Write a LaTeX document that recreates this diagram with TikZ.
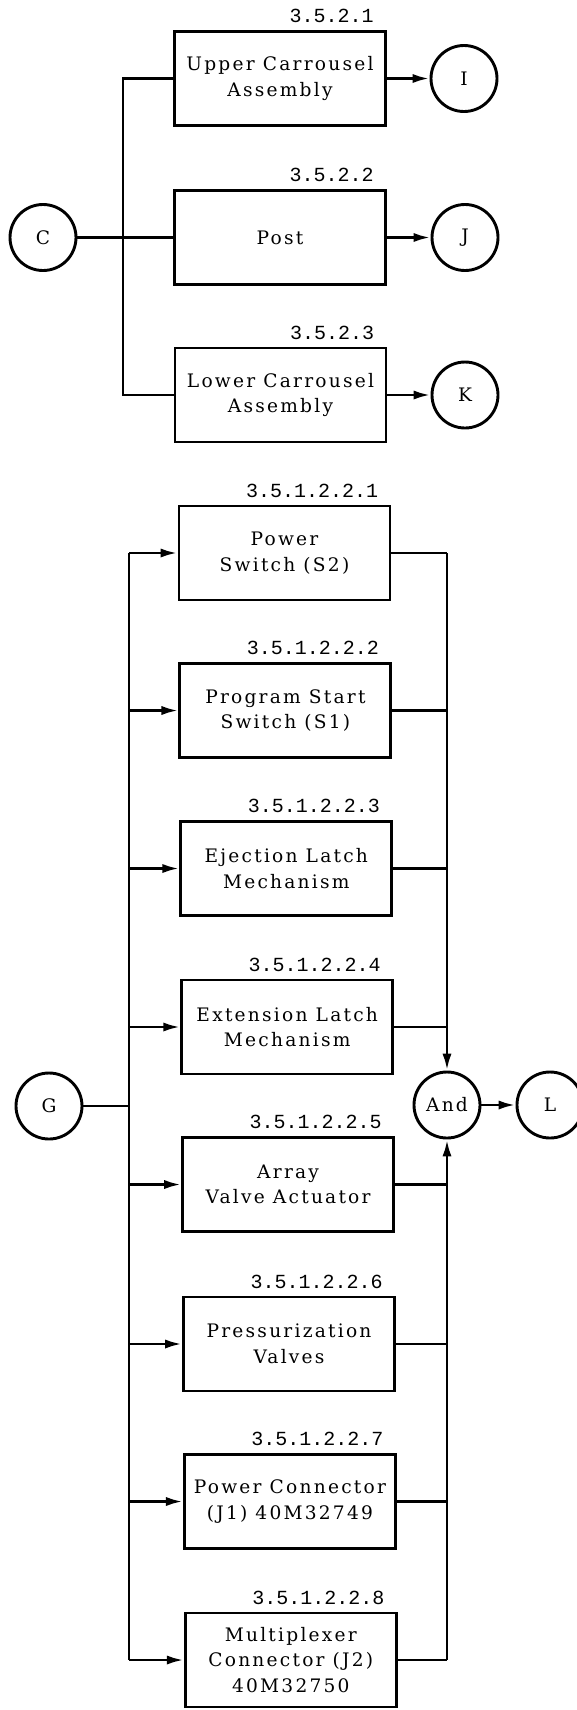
\documentclass[tikz,border=0pt]{standalone}
\usepackage{fontspec}
\setmainfont{DejaVu Serif}[LetterSpace=12]
\newfontfamily\labfont{Liberation Mono}
\usetikzlibrary{arrows.meta}
\begin{document}
\begin{tikzpicture}[x=0.5pt,y=-0.5pt,
  every node/.style={font=\fontsize{9.3pt}{12.8pt}\selectfont},
  blk/.style={draw, line width=1.45pt, minimum width=105.5pt, minimum height=47pt, inner sep=0pt, align=center},
  circ/.style={draw, circle, line width=1.45pt, minimum size=33pt, inner sep=0pt},
  num/.style={font=\labfont\fontsize{10pt}{12pt}\selectfont, anchor=base east, xshift=-6.5pt, yshift=3.75pt, inner sep=0pt},
  wire/.style={line width=1.45pt},
  arr/.style={line width=1.45pt, -{Latex[length=8.5pt,width=4.6pt]}}
]
\useasboundingbox (0,0) rectangle (577,1710);
% ---------- top section ----------
\node[circ] (C) at (43,237.5) {C};
\node[blk] (b1) at (280,78.5) {Upper Carrousel\\Assembly};
\node[blk] (b2) at (280,237.5) {Post};
\node[blk] (b3) at (280.5,395) {Lower Carrousel\\Assembly};
\node[num] at (b1.north east) {3.5.2.1};
\node[num] at (b2.north east) {3.5.2.2};
\node[num] at (b3.north east) {3.5.2.3};
\node[circ] (I) at (464,78.5) {I};
\node[circ] (J) at (465,237.5) {J};
\node[circ] (K) at (465,395) {K};
\coordinate (ct) at (123,78.5);
\coordinate (cb) at (123,395);
\draw[wire] (C) -- (b2);
\draw[wire] (b1.west) -- (ct) -- (cb) -- (b3.west);
\draw[arr] (b1) -- (I);
\draw[arr] (b2) -- (J);
\draw[arr] (b3) -- (K);
% ---------- bottom section ----------
\node[blk] (p1) at (284.5,553) {Power\\Switch (S2)};
\node[blk] (p2) at (285.4,710.5) {Program Start\\Switch (S1)};
\node[blk] (p3) at (286.3,868.5) {Ejection Latch\\Mechanism};
\node[blk] (p4) at (287.2,1027) {Extension Latch\\Mechanism};
\node[blk] (p5) at (288.1,1184.5) {Array\\Valve Actuator};
\node[blk] (p6) at (289,1344) {Pressurization\\Valves};
\node[blk] (p7) at (289.9,1501.5) {Power Connector\\(J1) 40M32749};
\node[blk] (p8) at (290.8,1660) {Multiplexer\\Connector (J2)\\40M32750};
\node[num] at (p1.north east) {3.5.1.2.2.1};
\node[num] at (p2.north east) {3.5.1.2.2.2};
\node[num] at (p3.north east) {3.5.1.2.2.3};
\node[num] at (p4.north east) {3.5.1.2.2.4};
\node[num] at (p5.north east) {3.5.1.2.2.5};
\node[num] at (p6.north east) {3.5.1.2.2.6};
\node[num] at (p7.north east) {3.5.1.2.2.7};
\node[num] at (p8.north east) {3.5.1.2.2.8};
\node[circ] (G) at (49,1106) {G};
\node[circ] (And) at (447,1105) {And};
\node[circ] (L) at (550,1105) {L};
\coordinate (lt) at (129,553);
\coordinate (lb) at (129,1660);
\coordinate (gj) at (129,1106);
\draw[wire] (lt) -- (lb);
\draw[wire] (G) -- (gj);
\foreach \n in {p1,p2,p3,p4,p5,p6,p7,p8}
  \draw[arr] (\n.west -| lt) -- (\n.west);
\coordinate (rt) at (447,553);
\coordinate (rb) at (447,1660);
\draw[wire] (p1.east) -- (rt);
\draw[arr] (rt) -- (And.north);
\draw[wire] (p8.east) -- (rb);
\draw[arr] (rb) -- (And.south);
\foreach \n in {p2,p3,p4,p5,p6,p7}
  \draw[wire] (\n.east) -- (\n.east -| rt);
\draw[arr] (And) -- (L);
\end{tikzpicture}
\end{document}
